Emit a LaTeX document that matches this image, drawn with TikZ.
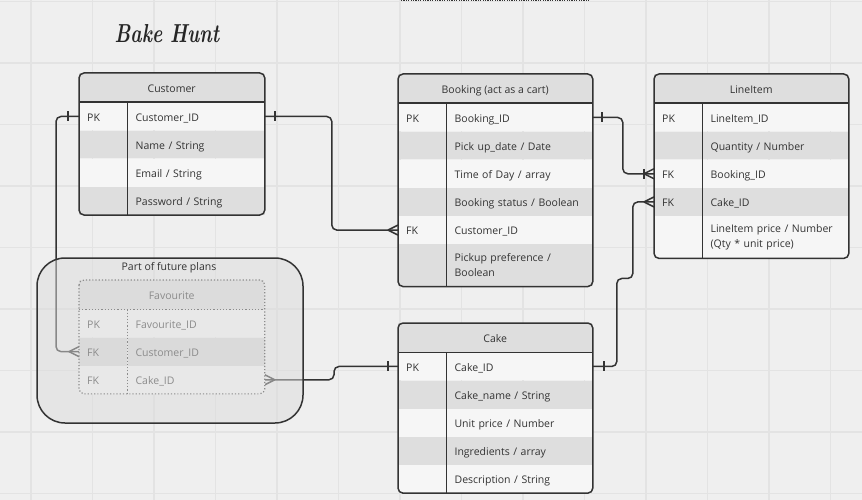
\documentclass[tikz,border=0pt]{standalone}
\usepackage{fontspec}
\usepackage{graphicx}
\usepackage{tikz}
\usetikzlibrary{positioning}
\newfontfamily\osans{Open Sans}
\newcommand{\cellfont}{\osans\fontsize{10.5}{15.3}\selectfont}

\definecolor{canvas}{HTML}{EFEFEF}
\definecolor{gridline}{HTML}{E3E3E3}
\definecolor{ink}{HTML}{333333}
\definecolor{headgray}{HTML}{DEDEDE}
\definecolor{rowlite}{HTML}{F6F6F6}
\definecolor{rowdark}{HTML}{DEDEDE}
\definecolor{groupgray}{HTML}{DDDDDD}
\definecolor{fadeink}{HTML}{8C8C8C}
\definecolor{favhead}{HTML}{DCDCDC}
\definecolor{favlite}{HTML}{E8E8E8}
\definecolor{favdark}{HTML}{DADADA}

\pgfdeclarelayer{grid}
\pgfdeclarelayer{wires}
\pgfsetlayers{grid,wires,main}

\tikzstyle{cell} = [rectangle, inner xsep=8pt, inner ysep=0pt, minimum height=27.75pt,
    text=ink, font=\cellfont, align=left, text height=10.5pt, text depth=1pt]
\tikzstyle{keycell} = [cell, text width=32pt]
\tikzstyle{fieldcell} = [cell, text width=130pt]
\tikzstyle{shortfield} = [cell, text width=121pt]
\tikzstyle{tall} = [minimum height=42pt, text height={}, text depth={}]
\tikzstyle{lite} = [fill=rowlite]
\tikzstyle{dark} = [fill=rowdark]
\tikzstyle{head} = [rectangle, fill=headgray, text=ink, font=\cellfont, inner sep=0pt,
    minimum height=29pt, text height=10.5pt, text depth=1pt, anchor=north west]
\tikzstyle{frame} = [draw=ink, line width=1.5pt, rounded corners=5pt]
\tikzstyle{rule} = [draw=ink, line width=1.8pt]
\tikzstyle{faded} = [text=fadeink]
\tikzstyle{dotframe} = [draw=fadeink, line width=1.2pt, dotted, rounded corners=5pt]
\tikzstyle{line} = [draw=ink, line width=1.5pt, rounded corners=5pt]

\newcommand{\crowfoot}[2]{\draw[line] (#1) ++({10*(#2)},0) -- ++({-10*(#2)},5) ++({10*(#2)},-5) -- ++({-10*(#2)},-5);}
\newcommand{\onemark}[2]{\draw[line] (#1) ++(#2,-5) -- ++(0,10);}

\begin{document}
\begin{tikzpicture}[x=1pt,y=-1pt]
    \useasboundingbox (0,0) rectangle (862,500);
    \begin{pgfonlayer}{grid}
        \fill[canvas] (0,0) rectangle (862,500);
        \foreach \gx in {0,...,13}
            \draw[gridline, line width=1.5pt] ({31+61.5*\gx},0) -- ++(0,500);
        \foreach \gy in {0,...,8}
            \draw[gridline, line width=1.5pt] (0,{1.7+61.5*\gy}) -- ++(862,0);
    \end{pgfonlayer}
    \draw[ink, line width=2pt, dash pattern=on 1.2pt off 1.2pt] (401,0.5) -- (590,0.5);

    % Place nodes
    \node[font=\fontsize{26}{26}\selectfont\bfseries\itshape, text=black!85, anchor=base] (title) at (167,43) {\scalebox{0.74}[1]{Bake Hunt}};

    % Customer
    \node[head, minimum width=185pt] (cust) at (79,73) {Customer};
    \node[keycell, lite, below right=0pt of cust.south west] (cust-k1) {PK};
    \node[shortfield, lite, right=0pt of cust-k1] (cust-f1) {Customer\_ID};
    \node[keycell, dark, below=0pt of cust-k1] (cust-k2) {};
    \node[shortfield, dark, right=0pt of cust-k2] (cust-f2) {Name / String};
    \node[keycell, lite, below=0pt of cust-k2] (cust-k3) {};
    \node[shortfield, lite, right=0pt of cust-k3] (cust-f3) {Email / String};
    \node[keycell, dark, below=0pt of cust-k3] (cust-k4) {};
    \node[shortfield, dark, right=0pt of cust-k4] (cust-f4) {Password / String};
    \draw[frame] (cust.north west) rectangle (cust-f4.south east);
    \draw[rule] (cust.south west) -- (cust.south east);
    \draw[rule] (cust-k1.north east) -- (cust-k4.south east);

    % Booking
    \node[head, minimum width=194pt] (bk) at (398,74) {Booking (act as a cart)};
    \node[keycell, lite, below right=0pt of bk.south west] (bk-k1) {PK};
    \node[fieldcell, lite, right=0pt of bk-k1] (bk-f1) {Booking\_ID};
    \node[keycell, dark, below=0pt of bk-k1] (bk-k2) {};
    \node[fieldcell, dark, right=0pt of bk-k2] (bk-f2) {Pick up\_date / Date};
    \node[keycell, lite, below=0pt of bk-k2] (bk-k3) {};
    \node[fieldcell, lite, right=0pt of bk-k3] (bk-f3) {Time of Day / array};
    \node[keycell, dark, below=0pt of bk-k3] (bk-k4) {};
    \node[fieldcell, dark, right=0pt of bk-k4] (bk-f4) {Booking status / Boolean};
    \node[keycell, lite, below=0pt of bk-k4] (bk-k5) {FK};
    \node[fieldcell, lite, right=0pt of bk-k5] (bk-f5) {Customer\_ID};
    \node[keycell, dark, tall, below=0pt of bk-k5] (bk-k6) {};
    \node[fieldcell, dark, tall, right=0pt of bk-k6] (bk-f6) {Pickup preference /\\Boolean};
    \draw[frame] (bk.north west) rectangle (bk-f6.south east);
    \draw[rule] (bk.south west) -- (bk.south east);
    \draw[rule] (bk-k1.north east) -- (bk-k6.south east);

    % LineItem
    \node[head, minimum width=194pt] (li) at (654,74) {LineItem};
    \node[keycell, lite, below right=0pt of li.south west] (li-k1) {PK};
    \node[fieldcell, lite, right=0pt of li-k1] (li-f1) {LineItem\_ID};
    \node[keycell, dark, below=0pt of li-k1] (li-k2) {};
    \node[fieldcell, dark, right=0pt of li-k2] (li-f2) {Quantity / Number};
    \node[keycell, lite, below=0pt of li-k2] (li-k3) {FK};
    \node[fieldcell, lite, right=0pt of li-k3] (li-f3) {Booking\_ID};
    \node[keycell, dark, below=0pt of li-k3] (li-k4) {FK};
    \node[fieldcell, dark, right=0pt of li-k4] (li-f4) {Cake\_ID};
    \node[keycell, lite, tall, below=0pt of li-k4] (li-k5) {};
    \node[fieldcell, lite, tall, right=0pt of li-k5] (li-f5) {LineItem price / Number\\(Qty * unit price)};
    \draw[frame] (li.north west) rectangle (li-f5.south east);
    \draw[rule] (li.south west) -- (li.south east);
    \draw[rule] (li-k1.north east) -- (li-k5.south east);

    % Cake
    \node[head, minimum width=194pt] (cake) at (398,323) {Cake};
    \node[keycell, lite, below right=0pt of cake.south west] (cake-k1) {PK};
    \node[fieldcell, lite, right=0pt of cake-k1] (cake-f1) {Cake\_ID};
    \node[keycell, dark, below=0pt of cake-k1] (cake-k2) {};
    \node[fieldcell, dark, right=0pt of cake-k2] (cake-f2) {Cake\_name / String};
    \node[keycell, lite, below=0pt of cake-k2] (cake-k3) {};
    \node[fieldcell, lite, right=0pt of cake-k3] (cake-f3) {Unit price / Number};
    \node[keycell, dark, below=0pt of cake-k3] (cake-k4) {};
    \node[fieldcell, dark, right=0pt of cake-k4] (cake-f4) {Ingredients / array};
    \node[keycell, lite, below=0pt of cake-k4] (cake-k5) {};
    \node[fieldcell, lite, right=0pt of cake-k5] (cake-f5) {Description / String};
    \draw[frame] (cake.north west) rectangle (cake-f5.south east);
    \draw[rule] (cake.south west) -- (cake.south east);
    \draw[rule] (cake-k1.north east) -- (cake-k5.south east);

    % Part of future plans
    \draw[draw=ink, line width=1.5pt, fill=groupgray, fill opacity=0.5, rounded corners=28pt] (37,258) rectangle (303,423);
    \node[font=\cellfont, text=ink] (plans) at (169,267.5) {Part of future plans};
    \node[head, fill=favhead, faded, minimum width=185pt] (fav) at (79,280) {Favourite};
    \node[keycell, faded, fill=favlite, below right=0pt of fav.south west] (fav-k1) {PK};
    \node[shortfield, faded, fill=favlite, right=0pt of fav-k1] (fav-f1) {Favourite\_ID};
    \node[keycell, faded, fill=favdark, below=0pt of fav-k1] (fav-k2) {FK};
    \node[shortfield, faded, fill=favdark, right=0pt of fav-k2] (fav-f2) {Customer\_ID};
    \node[keycell, faded, fill=favlite, below=0pt of fav-k2] (fav-k3) {FK};
    \node[shortfield, faded, fill=favlite, right=0pt of fav-k3] (fav-f3) {Cake\_ID};
    \draw[dotframe] (fav.north west) rectangle (fav-f3.south east);
    \draw[dotframe] (fav.south west) -- (fav.south east);
    \draw[dotframe] (fav-k1.north east) -- (fav-k3.south east);

    % Draw edges
    \begin{pgfonlayer}{wires}
    \path[line] (cust-k1.west) -- ++(-23,0) |- (fav-k2.west);
    \path[line] (cust-f1.east) -- ++(67,0) |- (bk-k5.west);
    \path[line] (bk-f1.east) -- ++(30,0) |- (li-k3.west);
    \path[line] (cake-f1.east) -- ++(24,0) -- ++(0,-88) -- ++(16,0) |- (li-k4.west);
    \path[line] (cake-k1.west) -- ++(-64,0) |- (fav-f3.east);
    \onemark{cust-k1.west}{-11}
    \onemark{cust-f1.east}{10}
    \onemark{bk-f1.east}{9}
    \onemark{cake-f1.east}{11}
    \onemark{cake-k1.west}{-10}
    \onemark{li-k3.west}{-10}
    \crowfoot{bk-k5.west}{-1}
    \crowfoot{li-k3.west}{-1}
    \crowfoot{li-k4.west}{-1}
    \crowfoot{fav-k2.west}{-1}
    \crowfoot{fav-f3.east}{1}
    \end{pgfonlayer}
\end{tikzpicture}
\end{document}
